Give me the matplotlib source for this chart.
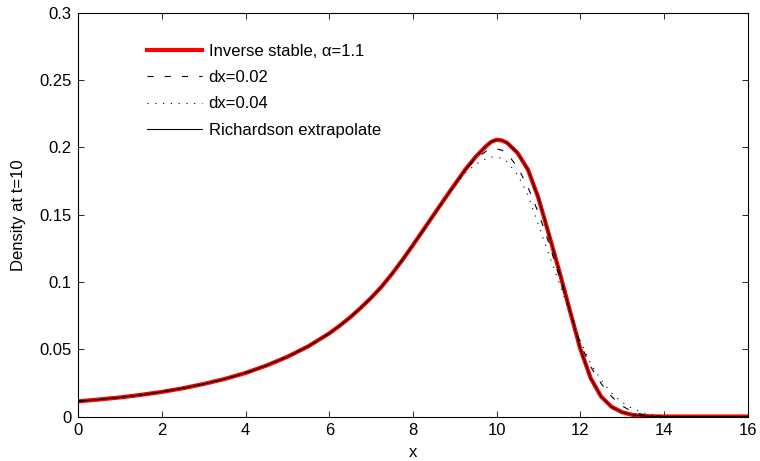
import numpy as np
import matplotlib
matplotlib.use('Agg')
import matplotlib.pyplot as plt

plt.rcParams['font.family'] = ['Liberation Sans', 'DejaVu Sans']

# common x grid
x = [0, 0.5, 1, 1.5, 2, 2.5, 3, 3.5, 4, 4.5, 5, 5.5, 6,
     6.25, 6.5, 6.75, 7, 7.25, 7.5, 7.75, 8, 8.25, 8.5, 8.75, 9, 9.25, 9.5, 9.75,
     9.875, 10, 10.125,
     10.25, 10.5, 10.75, 11, 11.25, 11.5, 11.75, 12, 12.25, 12.5, 12.75, 13, 13.25,
     13.5, 13.75, 14,
     15, 16]

# inverse stable density, alpha=1.1
y_stable = [0.0113, 0.01265, 0.0142, 0.0161, 0.0183, 0.0210, 0.0242, 0.0279, 0.0324,
            0.0379, 0.0444, 0.0522, 0.0618,
            0.0675, 0.0737, 0.0807, 0.0882, 0.0965, 0.1060, 0.1164, 0.1274, 0.1387,
            0.1501, 0.1614, 0.1725, 0.1835, 0.1930, 0.2010,
            0.2042, 0.2057, 0.2052,
            0.2035, 0.1960, 0.1835, 0.1625, 0.1355, 0.1080, 0.0790, 0.0505, 0.0285,
            0.0148, 0.0072, 0.0032, 0.0012, 0.0004, 0.0001, 0.0,
            0.0, 0.0]

# Richardson extrapolate lies on the exact curve
y_richardson = y_stable

# dx=0.02
y_dx02 = [0.0113, 0.01265, 0.0142, 0.0161, 0.0183, 0.0210, 0.0242, 0.0279, 0.0324,
          0.0379, 0.0444, 0.0522, 0.0618,
          0.0675, 0.0737, 0.0807, 0.0882, 0.0965, 0.1060, 0.1164, 0.1274, 0.1387,
          0.1501, 0.1614, 0.1725, 0.1830, 0.1915, 0.1972,
          0.1985, 0.1990, 0.1980,
          0.1955, 0.1855, 0.1705, 0.1515, 0.1290, 0.1040, 0.0790, 0.0545, 0.0370,
          0.0245, 0.0148, 0.0078, 0.0036, 0.0014, 0.0004, 0.0,
          0.0, 0.0]

# dx=0.04
y_dx04 = [0.0113, 0.01265, 0.0142, 0.0161, 0.0183, 0.0210, 0.0242, 0.0279, 0.0324,
          0.0379, 0.0444, 0.0522, 0.0618,
          0.0675, 0.0737, 0.0807, 0.0882, 0.0965, 0.1060, 0.1164, 0.1274, 0.1387,
          0.1501, 0.1612, 0.1715, 0.1808, 0.1875, 0.1917,
          0.1928, 0.1930, 0.1918,
          0.1893, 0.1800, 0.1645, 0.1425, 0.1205, 0.0990, 0.0775, 0.0565, 0.0395,
          0.0270, 0.0175, 0.0105, 0.0058, 0.0028, 0.0010, 0.0002,
          0.0, 0.0]

xticks = [0, 2, 4, 6, 8, 10, 12, 14, 16]
yticks = [0, 0.05, 0.1, 0.15, 0.2, 0.25, 0.3]
yticklabels = ['0', '0.05', '0.1', '0.15', '0.2', '0.25', '0.3']

fontsize = 12

fig = plt.figure(figsize=(7.6, 4.61), dpi=100)
ax = fig.add_axes([0.103, 0.0965, 0.8806, 0.8755])

ax.plot(x, y_stable, color='red', linewidth=3, label='Inverse stable, \u03b1=1.1')
ax.plot(x, y_dx02, color='black', linewidth=0.8, dashes=(5.5, 10), label='dx=0.02')
ax.plot(x, y_dx04, color='black', linewidth=0.8, dashes=(1, 6), label='dx=0.04')
ax.plot(x, y_richardson, color='black', linewidth=0.8, label='Richardson extrapolate')

ax.set_xlim(0, 16)
ax.set_ylim(0, 0.3)
ax.set_xticks(xticks)
ax.set_yticks(yticks)
ax.set_yticklabels(yticklabels)
ax.tick_params(axis='both', direction='in', length=4, width=0.6, labelsize=fontsize,
               top=True, right=True, pad=5)
for axis in ['top', 'bottom', 'left', 'right']:
    ax.spines[axis].set_linewidth(0.8)

ax.set_xlabel('x', fontsize=fontsize, labelpad=5)
ax.set_ylabel('Density at t=10', fontsize=fontsize, labelpad=9)

ax.legend(loc='upper left', bbox_to_anchor=(0.0798, 0.96), frameon=False, fontsize=fontsize,
          handlelength=3.3, handletextpad=0.42, labelspacing=0.67)

fig.savefig('out.png', dpi=100)
